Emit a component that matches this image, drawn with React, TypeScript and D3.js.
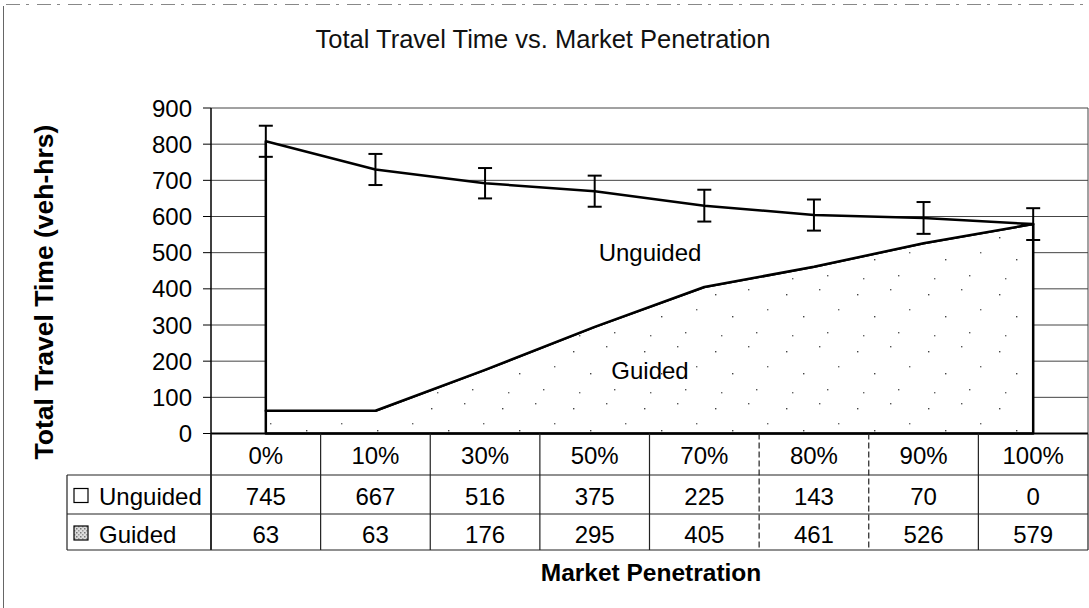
import React from 'react';
import * as d3 from 'd3';

const categories = ['0%', '10%', '30%', '50%', '70%', '80%', '90%', '100%'];
const unguided = [745, 667, 516, 375, 225, 143, 70, 0];
const guided = [63, 63, 176, 295, 405, 461, 526, 579];
const errorSize = [43, 43, 42, 43, 44, 43, 44, 44];
const yTickValues = [0, 100, 200, 300, 400, 500, 600, 700, 800, 900];
const seriesNames = ['Unguided', 'Guided'];

const W = 1089;
const H = 608;
const FONT = '"Liberation Sans", Arial, Helvetica, sans-serif';

export default function App() {
  const plotLeft = 211;
  const plotRight = 1088;
  const plotTop = 108;
  const plotBottom = 433.5;
  const rowBottoms = [475, 514, 550];
  const legendLeft = 67;

  const x = d3.scaleBand<string>().domain(categories).range([plotLeft, plotRight]).padding(0);
  const cx = (c: string) => (x(c) as number) + x.bandwidth() / 2;
  const y = d3.scaleLinear().domain([0, 900]).range([plotBottom, plotTop]);

  const rows = categories.map((c, i) => ({ cat: c, Guided: guided[i], Unguided: unguided[i] }));
  const stack = d3.stack<any>().keys(['Guided', 'Unguided']);
  const stacked = stack(rows);

  const area = d3
    .area<any>()
    .x((d: any) => cx(d.data.cat))
    .y0((d: any) => y(d[0]))
    .y1((d: any) => y(d[1]));

  const totals = categories.map((_, i) => guided[i] + unguided[i]);

  const tableRows = [
    { name: seriesNames[0], values: unguided, top: rowBottoms[0], bottom: rowBottoms[1] },
    { name: seriesNames[1], values: guided, top: rowBottoms[1], bottom: rowBottoms[2] },
  ];

  const colEdges = [...categories.map((c) => x(c) as number), plotRight];

  return (
    <svg
      width={W}
      height={H}
      viewBox={`0 0 ${W} ${H}`}
      style={{ position: 'absolute', left: 0, top: 0, background: '#fff' }}
      fontFamily={FONT}
    >
      <defs>
        <pattern id="dots" width="71" height="57" patternUnits="userSpaceOnUse">
          <rect width="71" height="57" fill="#fff" />
          <rect x="5" y="9" width="1.4" height="1.4" fill="#444" />
          <rect x="38" y="4" width="1.4" height="1.4" fill="#555" />
          <rect x="22" y="31" width="1.4" height="1.4" fill="#444" />
          <rect x="57" y="24" width="1.4" height="1.4" fill="#666" />
          <rect x="46" y="47" width="1.4" height="1.4" fill="#555" />
          <rect x="11" y="50" width="1.4" height="1.4" fill="#666" />
        </pattern>
        <pattern id="keydots" width="4" height="4" patternUnits="userSpaceOnUse">
          <rect width="4" height="4" fill="#ddd" />
          <rect x="0" y="0" width="1.5" height="1.5" fill="#777" />
          <rect x="2" y="2" width="1.5" height="1.5" fill="#999" />
        </pattern>
      </defs>

      {/* outer frame */}
      <line x1={3.5} y1={6} x2={3.5} y2={H} stroke="#666" strokeWidth={1} />
      <line x1={6} y1={4.5} x2={W - 6} y2={4.5} stroke="#888" strokeWidth={1} strokeDasharray="14 6 3 8" />

      {/* title */}
      <text x={543} y={48} textAnchor="middle" fontSize={25.5} fill="#111">
        Total Travel Time vs. Market Penetration
      </text>

      {/* gridlines */}
      {yTickValues.map((t) => (
        <line
          key={'g' + t}
          x1={plotLeft}
          x2={plotRight}
          y1={y(t)}
          y2={y(t)}
          stroke="#444"
          strokeWidth={1}
        />
      ))}
      {/* plot area right border */}
      <line x1={plotRight} x2={plotRight} y1={plotTop} y2={plotBottom} stroke="#444" strokeWidth={1} />

      {/* areas */}
      {stacked.map((s) => (
        <path
          key={s.key}
          d={area(s as any) as string}
          fill={s.key === 'Guided' ? 'url(#dots)' : '#fff'}
          stroke="#000"
          strokeWidth={2.5}
          strokeLinejoin="round"
        />
      ))}

      {/* error bars */}
      {categories.map((c, i) => {
        const xc = cx(c);
        const hi = y(totals[i] + errorSize[i]);
        const lo = y(totals[i] - errorSize[i]);
        return (
          <g key={'e' + c} stroke="#000" strokeWidth={2}>
            <line x1={xc} x2={xc} y1={hi} y2={lo} />
            <line x1={xc - 7} x2={xc + 7} y1={hi} y2={hi} />
            <line x1={xc - 7} x2={xc + 7} y1={lo} y2={lo} />
          </g>
        );
      })}

      {/* series labels in plot */}
      <text x={650} y={261} textAnchor="middle" fontSize={24} fill="#000">
        Unguided
      </text>
      <text x={650} y={379} textAnchor="middle" fontSize={24} fill="#000">
        Guided
      </text>

      {/* y axis */}
      <line x1={plotLeft} x2={plotLeft} y1={plotTop} y2={rowBottoms[2]} stroke="#000" strokeWidth={1.5} />
      {yTickValues.map((t) => (
        <g key={'t' + t}>
          <line x1={plotLeft - 8} x2={plotLeft} y1={y(t)} y2={y(t)} stroke="#000" strokeWidth={1} />
          <text x={192} y={y(t)} dy="0.36em" textAnchor="end" fontSize={24} fill="#000">
            {t}
          </text>
        </g>
      ))}
      <text
        transform={`translate(53, 292) rotate(-90)`}
        textAnchor="middle"
        fontSize={26.5}
        fontWeight="bold"
        fill="#000"
      >
        Total Travel Time (veh-hrs)
      </text>

      {/* x axis line */}
      <line x1={plotLeft} x2={plotRight} y1={plotBottom} y2={plotBottom} stroke="#000" strokeWidth={2} />

      {/* data table */}
      {rowBottoms.map((rb) => (
        <line key={'r' + rb} x1={legendLeft} x2={plotRight} y1={rb} y2={rb} stroke="#222" strokeWidth={1.2} />
      ))}
      <line x1={legendLeft} x2={legendLeft} y1={rowBottoms[0]} y2={rowBottoms[2]} stroke="#222" strokeWidth={1.2} />
      {colEdges.map((ex, i) => (
        <line
          key={'c' + i}
          x1={ex}
          x2={ex}
          y1={plotBottom}
          y2={rowBottoms[2]}
          stroke="#222"
          strokeWidth={1.2}
          strokeDasharray={i === 5 || i === 6 ? '6 3' : undefined}
        />
      ))}
      {categories.map((c) => (
        <text
          key={'h' + c}
          x={cx(c)}
          y={(plotBottom + rowBottoms[0]) / 2 + 1}
          dy="0.36em"
          textAnchor="middle"
          fontSize={24}
          fill="#000"
        >
          {c}
        </text>
      ))}
      {tableRows.map((r) => (
        <g key={'row' + r.name}>
          <rect
            x={74}
            y={(r.top + r.bottom) / 2 - 6}
            width={14}
            height={14}
            fill={r.name === 'Guided' ? 'url(#keydots)' : '#fff'}
            stroke="#000"
            strokeWidth={1.2}
          />
          <text x={99} y={(r.top + r.bottom) / 2 + 2} dy="0.36em" fontSize={24} fill="#000">
            {r.name}
          </text>
          {r.values.map((v, i) => (
            <text
              key={i}
              x={cx(categories[i])}
              y={(r.top + r.bottom) / 2 + 2}
              dy="0.36em"
              textAnchor="middle"
              fontSize={24}
              fill="#000"
            >
              {v}
            </text>
          ))}
        </g>
      ))}

      {/* x axis title */}
      <text x={651} y={581} textAnchor="middle" fontSize={24.5} fontWeight="bold" fill="#000">
        Market Penetration
      </text>
    </svg>
  );
}
